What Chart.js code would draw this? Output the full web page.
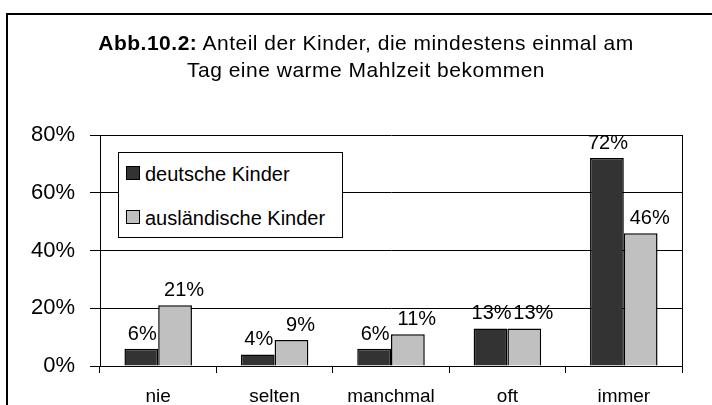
<!DOCTYPE html>
<html>
<head>
<meta charset="utf-8">
<script src="https://cdn.jsdelivr.net/npm/chart.js@4.4.1/dist/chart.umd.min.js"></script>
<style>
  html, body { margin: 0; padding: 0; background: #fff; }
  #wrap { position: relative; width: 712px; height: 405px; overflow: hidden; font-family: "Liberation Sans", Arial, sans-serif; color: #000; }
  #frame { position: absolute; left: 6px; top: 13px; width: 800px; height: 500px; border-left: 2px solid #000; border-top: 2px solid #000; }
  #chart { position: absolute; left: 0; top: 0; }
  #title { position: absolute; left: 0; top: 29px; width: 732px; text-align: center; font-size: 21px; line-height: 27px; letter-spacing: 0.5px; }
  #legend { position: absolute; left: 118px; top: 152px; width: 225px; height: 86px; box-sizing: border-box; border: 1.5px solid #000; background: #fff; }
  #legend .sw { position: absolute; left: 7px; width: 14px; height: 14px; box-sizing: border-box; border: 1px solid #000; }
  #legend .txt { position: absolute; left: 26px; font-size: 20px; line-height: 24px; white-space: nowrap; }
</style>
</head>
<body>
<div id="wrap">
  <div id="frame"></div>
  <canvas id="chart" width="712" height="405"></canvas>
  <div id="title"><b>Abb.10.2:</b> Anteil der Kinder, die mindestens einmal am<br>Tag eine warme Mahlzeit bekommen</div>
  <div id="legend"></div>
</div>
<script>
// data
const categories = ['nie', 'selten', 'manchmal', 'oft', 'immer'];
const deutscheKinder = [6, 4, 6, 13, 72];
const auslaendischeKinder = [21, 9, 11, 13, 46];
const seriesNames = ['deutsche Kinder', 'ausländische Kinder'];
const yTicks = [0, 20, 40, 60, 80];

const colors = {
    dark: '#333333',
    light: '#c0c0c0'
};

Chart.defaults.font.family = '"Liberation Sans", Arial, sans-serif';
Chart.defaults.color = '#000';

// percentage labels above the bars
const valueLabels = {
    id: 'valueLabels',
    afterDatasetsDraw(chart, args, opts) {
        const ctx = chart.ctx;
        ctx.save();
        ctx.font = '20px "Liberation Sans", Arial, sans-serif';
        ctx.fillStyle = '#000';
        ctx.textAlign = 'center';
        ctx.textBaseline = 'alphabetic';
        chart.data.datasets.forEach((ds, i) => {
            chart.getDatasetMeta(i).data.forEach((bar, j) => {
                ctx.fillText(ds.data[j] + '%', bar.x + opts.shift[i], bar.y - opts.gap);
            });
        });
        ctx.restore();
    }
};

const chart = new Chart(document.getElementById('chart'), {
    type: 'bar',
    data: {
        labels: categories,
        datasets: [{
            label: seriesNames[0],
            data: deutscheKinder,
            backgroundColor: colors.dark,
            borderColor: '#000',
            borderWidth: 1.5,
            categoryPercentage: 0.58,
            barPercentage: 1
        }, {
            label: seriesNames[1],
            data: auslaendischeKinder,
            backgroundColor: colors.light,
            borderColor: '#000',
            borderWidth: 1.5,
            categoryPercentage: 0.58,
            barPercentage: 1
        }]
    },
    options: {
        responsive: false,
        animation: false,
        devicePixelRatio: 1,
        layout: { padding: { top: 135, left: 0, right: 0, bottom: 0 } },
        plugins: {
            legend: { display: false },
            title: { display: false },
            tooltip: { enabled: false },
            valueLabels: { gap: 9, shift: [1, 9] }
        },
        scales: {
            x: {
                afterFit(scale) { scale.height = 39; },
                ticks: { font: { size: 19 }, padding: 12, color: '#000' },
                grid: { drawOnChartArea: false, offset: true, tickLength: 7, color: '#000' },
                border: { display: true, color: '#000', width: 1 }
            },
            y: {
                min: 0,
                max: 80,
                afterFit(scale) { scale.width = 100; },
                afterBuildTicks(scale) { scale.ticks = yTicks.map(v => ({ value: v })); },
                ticks: { font: { size: 22 }, padding: 15, color: '#000', callback: v => v + '%' },
                grid: { color: '#000', lineWidth: 1, tickLength: 10 },
                border: { display: true, color: '#000', width: 1 }
            },
            y2: {
                position: 'right',
                min: 0,
                max: 80,
                afterFit(scale) { scale.width = 30; },
                ticks: { display: false },
                grid: { drawOnChartArea: false, drawTicks: false },
                border: { display: true, color: '#000', width: 1 }
            }
        }
    },
    plugins: [valueLabels]
});

// legend box inside the plot
const legend = document.getElementById('legend');
chart.data.datasets.forEach((ds, i) => {
    const sw = document.createElement('div');
    sw.className = 'sw';
    sw.style.top = (13 + i * 44) + 'px';
    sw.style.background = ds.backgroundColor;
    const txt = document.createElement('div');
    txt.className = 'txt';
    txt.style.top = (9 + i * 44) + 'px';
    txt.textContent = ds.label;
    legend.appendChild(sw);
    legend.appendChild(txt);
});
</script>
</body>
</html>
